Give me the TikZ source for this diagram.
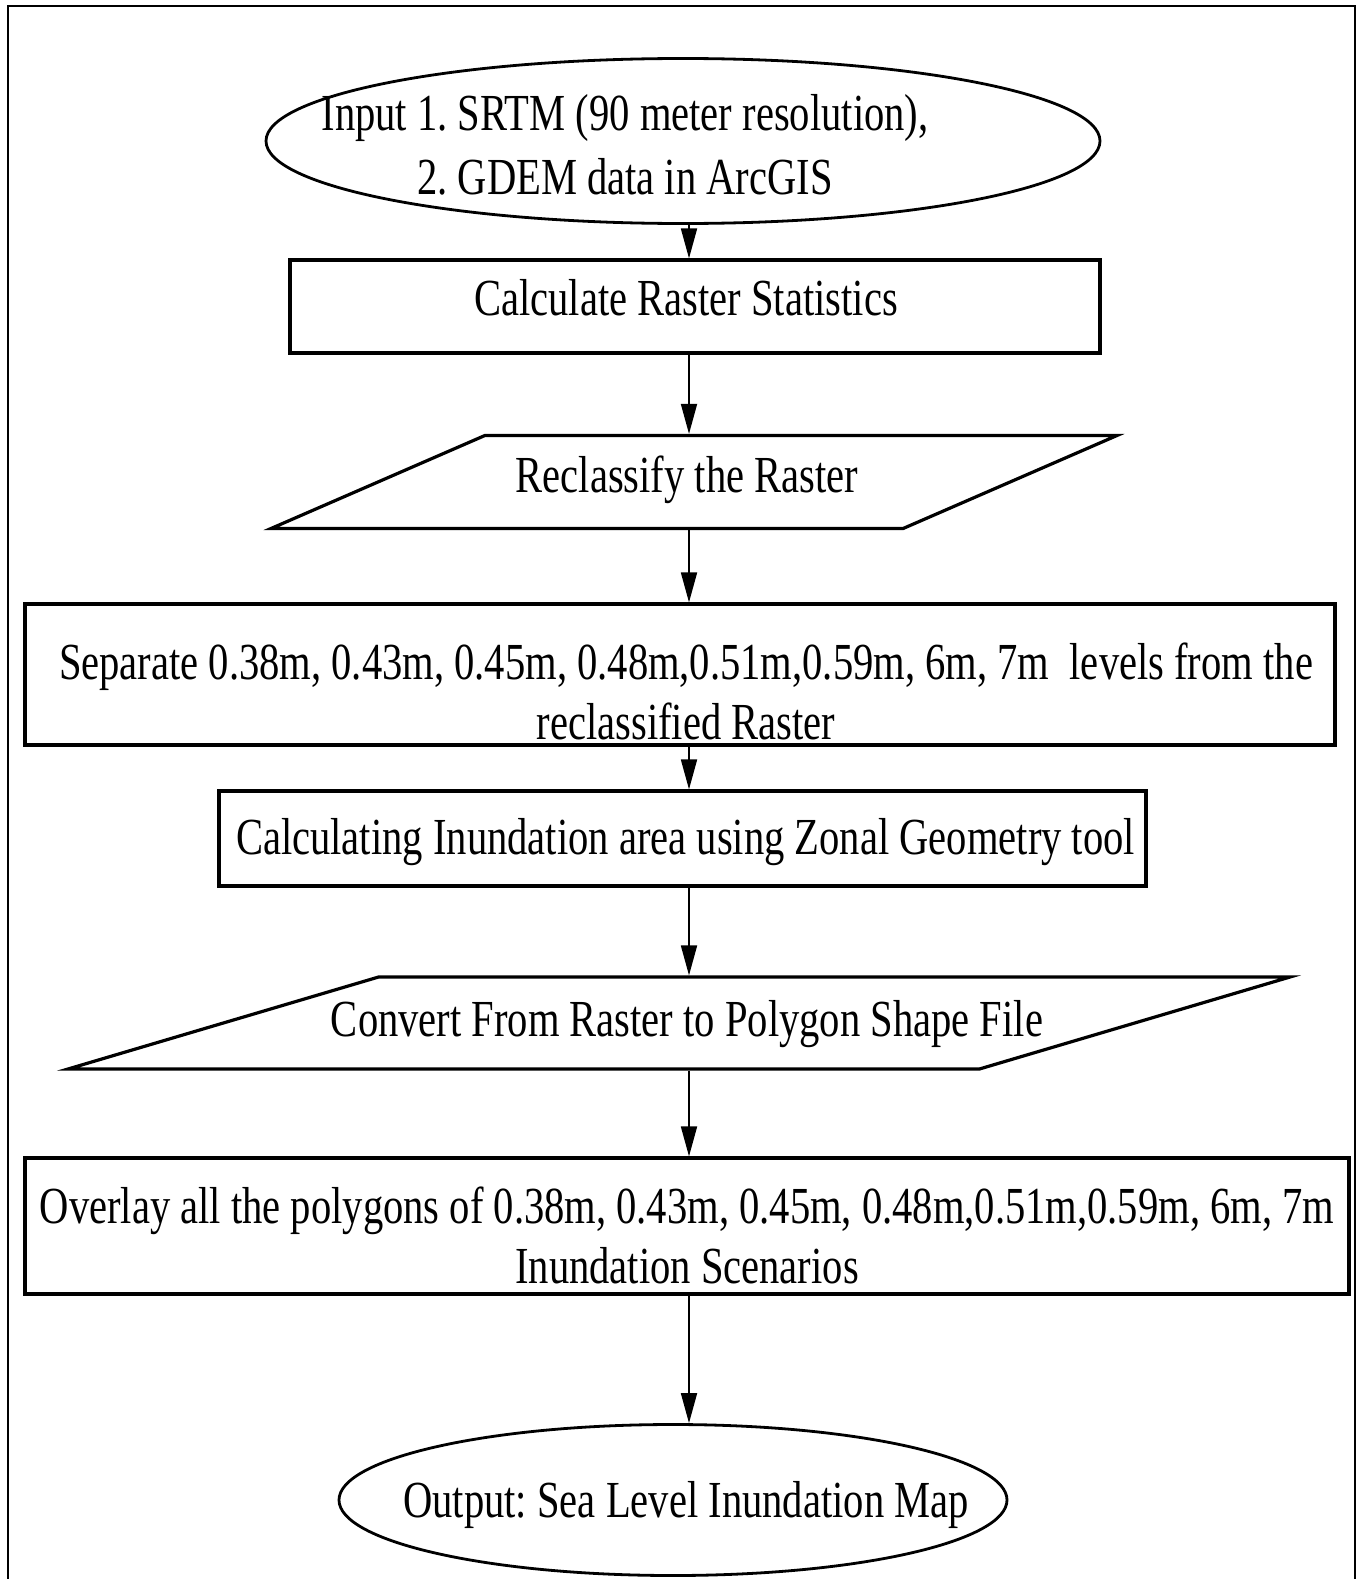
\documentclass[tikz,border=0pt]{standalone}
\usepackage{fontspec}
\setmainfont[FakeStretch=0.78]{Liberation Serif}
\usetikzlibrary{shapes.geometric,arrows.meta}

\tikzset{
    flowtext/.style={font=\fontsize{52}{60}\selectfont\frenchspacing, align=center, inner sep=0pt},
    stepbox/.style={draw, rectangle, line width=3.2pt, inner sep=0pt},
    termbox/.style={draw, ellipse, line width=2.8pt, inner sep=0pt},
    iobox/.style={draw, trapezium, trapezium stretches body, line width=3.2pt, inner xsep=0pt},
    flowline/.style={-{Triangle[length=30pt,width=16pt]}, line width=1.8pt},
}

\begin{document}
\begin{tikzpicture}[x=1pt, y=-1pt]
    \useasboundingbox (0,0) rectangle (1359,1579);
    \draw[line width=1.8pt] (8,6) rectangle (1355,1590);
    \coordinate (ax) at (689,0);

    \node[termbox, minimum width=834pt, minimum height=165pt,
        label={[flowtext, xshift=-58pt, yshift=-4pt]center:{Input 1. SRTM (90 meter resolution),\\[4pt] 2. GDEM data in ArcGIS}}]
        (input) at (683,141) {};
    \node[stepbox, minimum width=810pt, minimum height=93pt,
        label={[flowtext, xshift=-9pt, yshift=9pt]center:Calculate Raster Statistics}]
        (stats) at (695,306.5) {};
    \node[iobox, trapezium left angle=23.5, trapezium right angle=156.5,
        inner ysep=46.5pt, minimum width=846pt,
        label={[flowtext, xshift=-7pt, yshift=2pt]center:Reclassify the Raster}]
        (reclass) at (694,482) {};
    \node[stepbox, minimum width=1310pt, minimum height=141pt,
        label={[flowtext, xshift=6pt, yshift=-17pt]center:{Separate 0.38m, 0.43m, 0.45m, 0.48m,0.51m,0.59m, 6m, 7m\ \ levels from the\\ reclassified Raster}}]
        (levels) at (680,674.5) {};
    \node[stepbox, minimum width=927pt, minimum height=95pt,
        label={[flowtext, xshift=3pt, yshift=-4pt]center:Calculating Inundation area using Zonal Geometry tool}]
        (zonal) at (682.5,838.5) {};
    \node[iobox, trapezium left angle=16.5, trapezium right angle=163.5,
        inner ysep=46pt, minimum width=1222pt,
        label={[flowtext, xshift=8pt, yshift=-1pt]center:Convert From Raster to Polygon Shape File}]
        (convert) at (679,1023) {};
    \node[stepbox, minimum width=1324pt, minimum height=136pt,
        label={[flowtext, yshift=-9pt]center:{Overlay all the polygons of 0.38m, 0.43m, 0.45m, 0.48m,0.51m,0.59m, 6m, 7m\\ Inundation Scenarios}}]
        (overlay) at (687,1226) {};
    \node[termbox, minimum width=668pt, minimum height=151pt,
        label={[flowtext, xshift=13pt, yshift=-5pt]center:Output: Sea Level Inundation Map}]
        (output) at (673,1500) {};

    % connectors
    \draw[flowline] (input.south -| ax) -- (stats.north -| ax);
    \draw[flowline] (stats.south -| ax) -- (reclass.north -| ax);
    \draw[flowline] (reclass.south -| ax) -- (levels.north -| ax);
    \draw[flowline] (levels.south -| ax) -- (zonal.north -| ax);
    \draw[flowline] (zonal.south -| ax) -- (convert.north -| ax);
    \draw[flowline] (convert.south -| ax) -- (overlay.north -| ax);
    \draw[flowline] (overlay.south -| ax) -- (output.north -| ax);
\end{tikzpicture}
\end{document}
